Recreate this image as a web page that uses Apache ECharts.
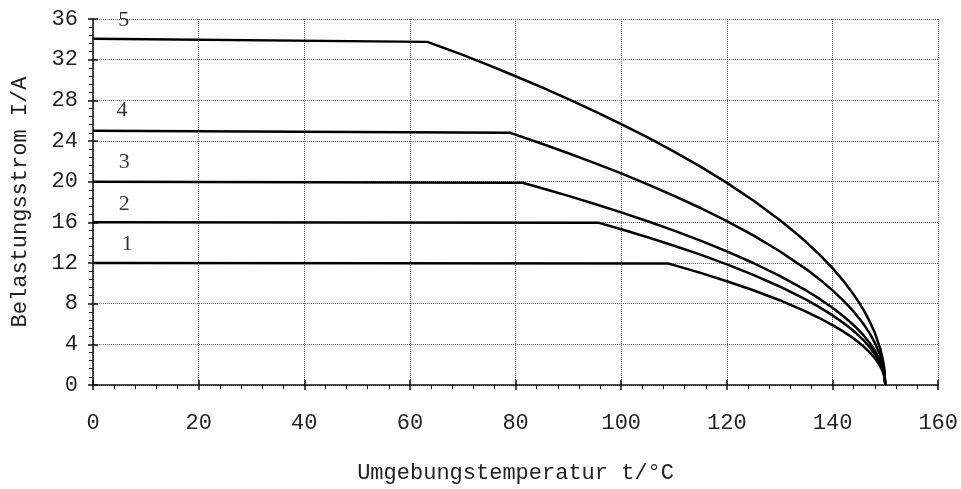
<!DOCTYPE html>
<html>
<head>
<meta charset="utf-8">
<script src="https://cdn.jsdelivr.net/npm/echarts@6/dist/echarts.min.js"></script>
<style>
  html, body { margin: 0; padding: 0; background: #fff; }
  #chart { width: 961px; height: 489px; }
</style>
</head>
<body>
<div id="chart"></div>
<script>
// Belastungsstrom über Umgebungstemperatur, Kurven 1..5
const kurve1 = [[0, 12.0], [108.9, 11.95], [110, 11.79], [115, 11.03], [120, 10.21], [125, 9.32], [130, 8.34], [135, 7.22], [137.5, 6.59], [140, 5.89], [142, 5.27], [143, 4.93], [144, 4.57], [145, 4.17], [146, 3.73], [147, 3.23], [148, 2.64], [149, 1.86], [149.5, 1.32], [149.8, 0.83], [150, 0]];
const kurve2 = [[0, 16.0], [95.8, 15.95], [100, 15.32], [105, 14.53], [110, 13.70], [115, 12.82], [120, 11.87], [125, 10.83], [130, 9.69], [135, 8.39], [137.5, 7.66], [140, 6.85], [142, 6.13], [143, 5.73], [144, 5.31], [145, 4.84], [146, 4.33], [147, 3.75], [148, 3.06], [149, 2.17], [149.5, 1.53], [149.8, 0.97], [150, 0]];
const kurve3 = [[0, 20.0], [81.3, 19.9], [85, 19.36], [90, 18.60], [95, 17.81], [100, 16.98], [105, 16.11], [110, 15.18], [115, 14.20], [120, 13.15], [125, 12.00], [130, 10.74], [135, 9.30], [137.5, 8.49], [140, 7.59], [142, 6.79], [143, 6.35], [144, 5.88], [145, 5.37], [146, 4.80], [147, 4.16], [148, 3.40], [149, 2.40], [149.5, 1.70], [149.8, 1.07], [150, 0]];
const kurve4 = [[0, 25.0], [79.0, 24.8], [85, 23.73], [90, 22.80], [95, 21.83], [100, 20.81], [105, 19.74], [110, 18.61], [115, 17.41], [120, 16.12], [125, 14.72], [130, 13.16], [135, 11.40], [137.5, 10.41], [140, 9.31], [142, 8.33], [143, 7.79], [144, 7.21], [145, 6.58], [146, 5.89], [147, 5.10], [148, 4.16], [149, 2.94], [149.5, 2.08], [149.8, 1.32], [150, 0]];
const kurve5 = [[0, 34.05], [63.3, 33.75], [70, 32.47], [75, 31.44], [80, 30.37], [85, 29.27], [90, 28.12], [95, 26.92], [100, 25.67], [105, 24.35], [110, 22.96], [115, 21.48], [120, 19.88], [125, 18.15], [130, 16.23], [132.5, 15.18], [135, 14.06], [137.5, 12.85], [140, 11.5], [142, 10.27], [143, 9.6], [144, 8.89], [145, 8.12], [146, 7.26], [147, 6.29], [148, 5.13], [149, 3.63], [149.5, 2.57], [149.8, 1.62], [150, 0]];

// Kurvennummern und ihre Lage im Diagramm (t, I)
const kurvenNamen = ['1', '2', '3', '4', '5'];
const namenPos = [[6.5, 13.8], [5.9, 17.8], [5.9, 21.9], [5.5, 27.0], [5.8, 35.9]];

const xTitel = 'Umgebungstemperatur t/°C';
const yTitel = 'Belastungsstrom I/A';

const mono = '"Liberation Mono", "Courier New", monospace';
const serif = '"Liberation Serif", "Times New Roman", serif';
const ink = '#111';
const textInk = '#222';

const chart = echarts.init(document.getElementById('chart'), null, { renderer: 'canvas' });

function kurve(data) {
  return {
    type: 'line',
    data: data,
    xAxisIndex: 0,
    yAxisIndex: 0,
    showSymbol: false,
    symbol: 'none',
    smooth: false,
    lineStyle: { color: '#000', width: 2.5, join: 'round' },
    z: 5
  };
}

// Zweite Achse je Richtung: Hauptstriche nach innen, damit sie die Achslinie kreuzen
const innerX = {
  type: 'value', min: 0, max: 160, interval: 20, position: 'bottom',
  axisLine: { show: false }, axisLabel: { show: false }, splitLine: { show: false },
  axisTick: { show: true, inside: true, length: 5, lineStyle: { color: ink, width: 1.5 } }
};
const innerY = {
  type: 'value', min: 0, max: 36, interval: 4, position: 'left',
  axisLine: { show: false }, axisLabel: { show: false }, splitLine: { show: false },
  axisTick: { show: true, inside: true, length: 5, lineStyle: { color: ink, width: 1.5 } }
};

chart.setOption({
  animation: false,
  backgroundColor: '#fff',
  grid: { left: 93, right: 21, top: 19, bottom: 102, containLabel: false },
  xAxis: [{
    type: 'value', min: 0, max: 160, interval: 20, position: 'bottom',
    name: xTitel, nameLocation: 'middle', nameGap: 77,
    nameTextStyle: { fontFamily: mono, fontSize: 22, color: textInk },
    axisLine: { show: true, lineStyle: { color: ink, width: 1.5 } },
    axisTick: { show: true, length: 5, lineStyle: { color: ink, width: 1.5 } },
    minorTick: { show: true, splitNumber: 5, length: 4, lineStyle: { color: ink, width: 1 } },
    axisLabel: { fontFamily: mono, fontSize: 22, color: textInk, margin: 27 },
    splitLine: { show: true, lineStyle: { color: '#666', width: 1, type: [1, 1] } }
  }, innerX],
  yAxis: [{
    type: 'value', min: 0, max: 36, interval: 4, position: 'left',
    name: yTitel, nameLocation: 'middle', nameGap: 62, nameRotate: 90,
    nameTextStyle: { fontFamily: mono, fontSize: 22, color: textInk },
    axisLine: { show: true, lineStyle: { color: ink, width: 1.5 } },
    axisTick: { show: true, length: 5, lineStyle: { color: ink, width: 1.5 } },
    minorTick: { show: true, splitNumber: 5, length: 4, lineStyle: { color: ink, width: 1 } },
    axisLabel: { fontFamily: mono, fontSize: 22, color: textInk, margin: 15 },
    splitLine: { show: true, lineStyle: { color: '#666', width: 1, type: [1, 1] } }
  }, innerY],
  series: [
    kurve(kurve1), kurve(kurve2), kurve(kurve3), kurve(kurve4), kurve(kurve5),
    {
      type: 'scatter',
      xAxisIndex: 0,
      yAxisIndex: 0,
      symbolSize: 1,
      itemStyle: { color: 'transparent' },
      data: namenPos.map((p, i) => [p[0], p[1], kurvenNamen[i]]),
      label: {
        show: true,
        position: 'inside',
        formatter: (p) => p.value[2],
        fontFamily: serif,
        fontSize: 22,
        color: '#000'
      },
      z: 6
    }
  ]
});
</script>
</body>
</html>
